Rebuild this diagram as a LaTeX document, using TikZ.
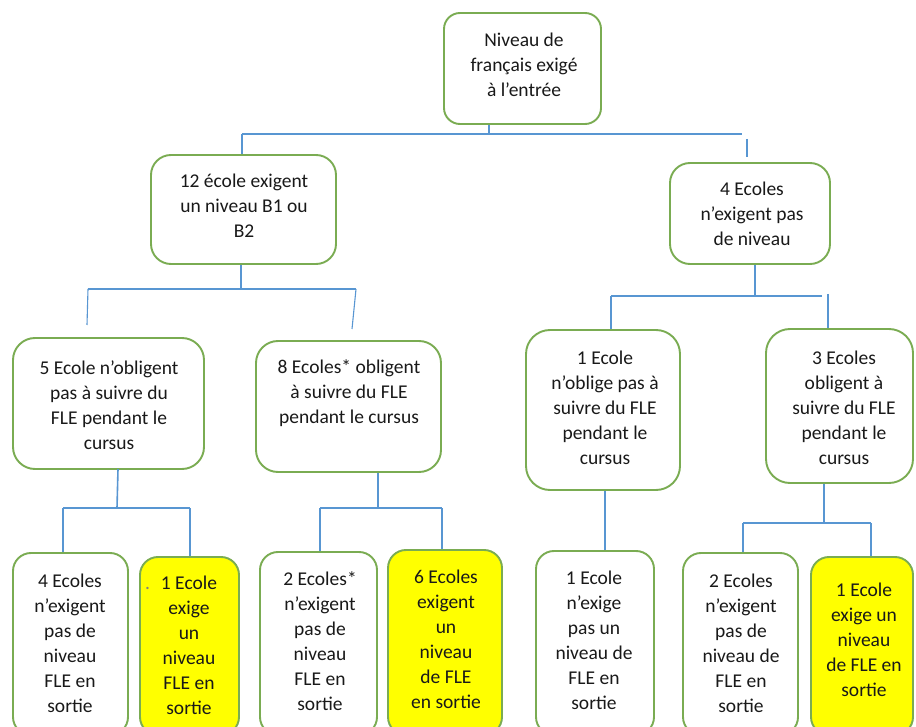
\documentclass[tikz,border=0pt]{standalone}
\usepackage{fontspec}
\setmainfont{Carlito}
\definecolor{boxgreen}{RGB}{122,172,82}
\definecolor{linkblue}{RGB}{88,150,210}
\definecolor{txtdark}{RGB}{25,25,25}
\definecolor{hiyellow}{RGB}{255,255,0}
\begin{document}
\begin{tikzpicture}[x=1pt,y=-1pt,
  box/.style={draw=boxgreen, line width=1.9pt, rounded corners=18pt, rectangle, inner sep=0pt, fill=white},
  ybox/.style={box, fill=hiyellow},
  lbl/.style={text=txtdark, align=center, inner sep=0pt, font=\fontsize{19.5}{25}\selectfont},
  thick link/.style={draw=linkblue, line width=2.6pt},
  mid link/.style={draw=linkblue, line width=1.6pt},
  thin link/.style={draw=linkblue, line width=1.1pt}]
\useasboundingbox (0,0) rectangle (916,727);
\clip (0,0) rectangle (916,727);
\fill[white] (0,0) rectangle (916,727);

% ---- boxes ----
\node[box, rounded corners=16pt, minimum width=157pt, minimum height=111pt] (root) at (522.5,68.5) {};
\node[box, rounded corners=20pt, minimum width=185pt, minimum height=109pt] (l1) at (243.5,209.5) {};
\node[box, rounded corners=20pt, minimum width=160pt, minimum height=101pt] (r1) at (750,213.5) {};
\node[box, rounded corners=22pt, minimum width=191pt, minimum height=131pt] (a) at (108.5,403.5) {};
\node[box, rounded corners=22pt, minimum width=185pt, minimum height=131pt] (b) at (348.5,406.5) {};
\node[box, rounded corners=24pt, minimum width=154pt, minimum height=160pt] (c) at (603,410) {};
\node[box, rounded corners=24pt, minimum width=147pt, minimum height=154pt] (d) at (839.5,406) {};
\node[box, minimum width=115pt, minimum height=182pt] (b1) at (70.5,644) {};
\node[ybox, minimum width=99pt, minimum height=178pt] (b2) at (189.5,646) {};
\node[box, minimum width=117pt, minimum height=183pt] (b3) at (318.5,643.5) {};
\node[ybox, minimum width=114pt, minimum height=185pt] (b4) at (445,642.5) {};
\node[box, minimum width=118pt, minimum height=184pt] (b5) at (595,643) {};
\node[box, minimum width=115pt, minimum height=182pt] (b6) at (740.5,644) {};
\node[ybox, minimum width=102pt, minimum height=178pt] (b7) at (862,646) {};

% ---- texts ----
\node[lbl] (troot) at (524,65) {Niveau de\\français exigé\\à l’entrée};
\node[lbl] (tl1) at (244,206) {12 école exigent\\un niveau B1 ou\\B2};
\node[lbl] (tr1) at (752,214) {4 Ecoles\\n’exigent pas\\de niveau};
\node[lbl] (ta) at (109,405) {5 Ecole n’obligent\\pas à suivre du\\FLE pendant le\\cursus};
\node[lbl] (tb) at (349,393) {8 Ecoles* obligent\\à suivre du FLE\\pendant le cursus};
\node[lbl] (tc) at (605,408) {1 Ecole\\n’oblige pas à\\suivre du FLE\\pendant le\\cursus};
\node[lbl] (td) at (844,408) {3 Ecoles\\obligent à\\suivre du FLE\\pendant le\\cursus};
\node[lbl] (tb1) at (70,643) {4 Ecoles\\n’exigent\\pas de\\niveau\\FLE en\\sortie};
\node[lbl] (tb2) at (189,645) {\llap{\textcolor{gray}{.}\hspace{11pt}}1 Ecole\\exige\\un\\niveau\\FLE en\\sortie};
\node[lbl] (tb3) at (320,641) {2 Ecoles*\\n’exigent\\pas de\\niveau\\FLE en\\sortie};
\node[lbl] (tb4) at (446,639) {6 Ecoles\\exigent\\un\\niveau\\de FLE\\en sortie};
\node[lbl] (tb5) at (594,640) {1 Ecole\\n’exige\\pas un\\niveau de\\FLE en\\sortie};
\node[lbl] (tb6) at (741,643) {2 Ecoles\\n’exigent\\pas de\\niveau de\\FLE en\\sortie};
\node[lbl] (tb7) at (864,640) {1 Ecole\\exige un\\niveau\\de FLE en\\sortie};

% ---- junction coordinates ----
\coordinate (j0) at (489,134);
\coordinate (h0l) at (242,134);
\coordinate (h0r) at (742,134);
\coordinate (r1top) at (747,139);
\coordinate (r1end) at (747,157);

\coordinate (j1) at (241,289);
\coordinate (h1l) at (88,289);
\coordinate (h1r) at (356,289);
\coordinate (aend) at (87,325);
\coordinate (bend) at (352,329);

\coordinate (j2) at (755,296);
\coordinate (h2l) at (611,296);
\coordinate (h2r) at (822,296);
\coordinate (dtop) at (828,294);

\coordinate (j3) at (117,508);
\coordinate (h3l) at (63,508);
\coordinate (h3r) at (190,508);

\coordinate (j4) at (378,508);
\coordinate (h4l) at (320,508);
\coordinate (h4r) at (442,508);

\coordinate (j6) at (824,523);
\coordinate (h6l) at (743,523);
\coordinate (h6r) at (871,523);

% ---- connectors ----
\draw[thick link] (root.south -| j0) -- (j0);
\draw[thick link] (h0l) -- (h0r);
\draw[mid link] (h0l) -- (h0l |- l1.north);
\draw[mid link] (r1top) -- (r1end);

\draw[thin link] (l1.south -| j1) -- (j1);
\draw[thin link] (h1l) -- (h1r);
\draw[thin link] (h1l) -- (aend);
\draw[thin link] (h1r) -- (bend);

\draw[thick link] (r1.south -| j2) -- (j2);
\draw[thick link] (h2l) -- (h2r);
\draw[thick link] (h2l) -- (h2l |- c.north);
\draw[thick link] (dtop) -- (dtop |- d.north);

\draw[mid link] (118,469) -- (j3);
\draw[mid link] (h3l) -- (h3r);
\draw[mid link] (h3l) -- (h3l |- b1.north);
\draw[mid link] (h3r) -- (h3r |- b2.north);

\draw[thick link] (b.south -| j4) -- (j4);
\draw[thin link] (h4l) -- (h4r);
\draw[thin link] (h4l) -- (h4l |- b3.north);
\draw[thin link] (h4r) -- (h4r |- b4.north);

\draw[thin link] (c.south -| 605,0) -- (605,0 |- b5.north);

\draw[thin link] (d.south -| j6) -- (j6);
\draw[thick link] (h6l) -- (h6r);
\draw[thin link] (h6l) -- (h6l |- b6.north);
\draw[thin link] (h6r) -- (h6r |- b7.north);
\end{tikzpicture}
\end{document}
